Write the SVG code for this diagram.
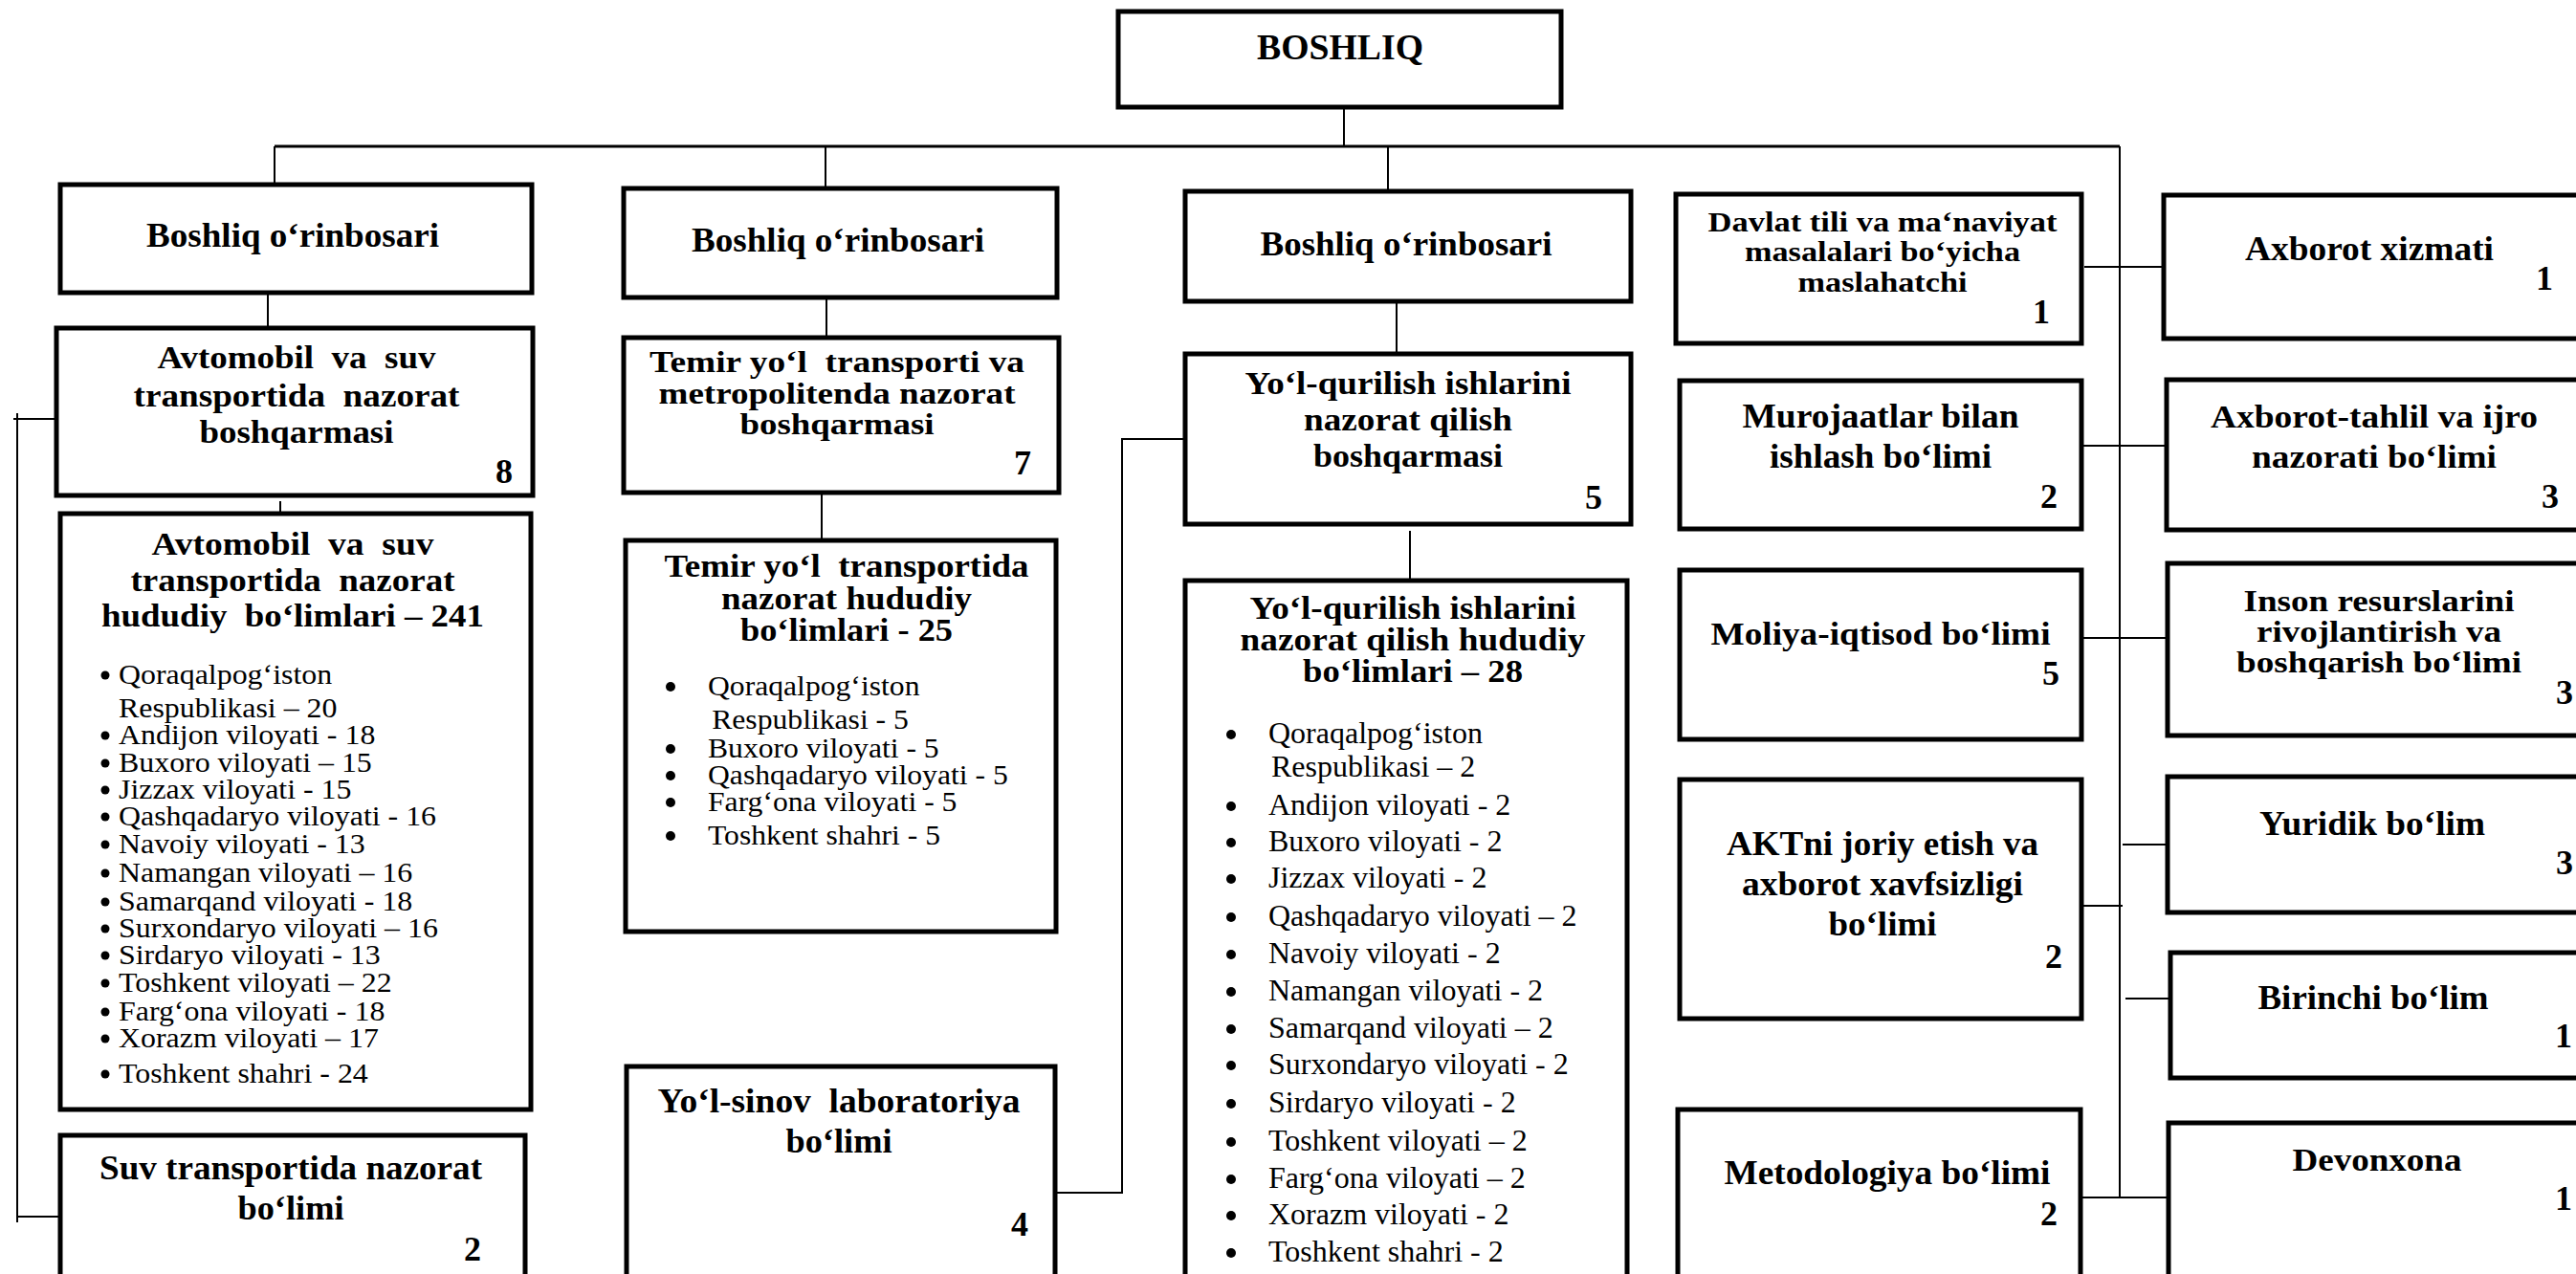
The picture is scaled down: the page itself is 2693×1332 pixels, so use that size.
<svg xmlns="http://www.w3.org/2000/svg" width="2693" height="1332" viewBox="0 0 2693 1332">
<style>
.box{fill:#fff;stroke:#000;stroke-width:5}
.ln{stroke:#000;stroke-width:2;fill:none}
.h{font-family:"Liberation Serif","Times New Roman",serif;font-weight:bold;text-anchor:middle;fill:#000}
.n{font-family:"Liberation Serif","Times New Roman",serif;font-weight:bold;font-size:36px;text-anchor:end;fill:#000}
.n2{font-family:"Liberation Serif","Times New Roman",serif;font-weight:bold;font-size:36px;fill:#000}
.li{font-family:"Liberation Serif","Times New Roman",serif;fill:#000}
.b{fill:#000}
</style>
<rect x="0" y="0" width="2693" height="1332" fill="#fff"/>
<g id="connectors">
<path class="ln" d="M1405 112V153"/>
<path class="ln" style="stroke-width:3" d="M287 153H2216"/>
<path class="ln" d="M287 153V193M863 153V197M1451 153V200"/>
<path class="ln" d="M280 306V343"/>
<path class="ln" d="M293 524V541"/>
<path class="ln" d="M14 438H59M18 432V1278M18 1272H61"/>
<path class="ln" d="M864 311V353"/>
<path class="ln" d="M859 515V565"/>
<path class="ln" d="M1460 315V370"/>
<path class="ln" d="M1474 555V607"/>
<path class="ln" d="M1104 1247H1173V459H1239"/>
<path class="ln" d="M2216 153V1252"/>
<path class="ln" d="M2179 279H2262"/>
<path class="ln" d="M2176 466H2265"/>
<path class="ln" d="M2176 667H2266"/>
<path class="ln" d="M2176 947H2219"/>
<path class="ln" d="M2219 883H2266"/>
<path class="ln" d="M2222 1044H2269"/>
<path class="ln" d="M2175 1252H2267"/>
</g>
<g id="boshliq">
<rect class="box" x="1169" y="12" width="463" height="100"/>
<text class="h" x="1401" y="62" font-size="37" textLength="174" lengthAdjust="spacingAndGlyphs">BOSHLIQ</text>
</g>
<g id="orinbosar1">
<rect class="box" x="63" y="193" width="493" height="113"/>
<text class="h" x="306" y="258" font-size="35" textLength="306" lengthAdjust="spacingAndGlyphs">Boshliq o‘rinbosari</text>
</g>
<g id="avto-boshqarma">
<rect class="box" x="59" y="343" width="498" height="175"/>
<text class="h" x="310" y="385" font-size="33" xml:space="preserve" textLength="291" lengthAdjust="spacingAndGlyphs">Avtomobil  va  suv</text>
<text class="h" x="310" y="425" font-size="33" xml:space="preserve" textLength="341" lengthAdjust="spacingAndGlyphs">transportida  nazorat</text>
<text class="h" x="310" y="463" font-size="33" textLength="203" lengthAdjust="spacingAndGlyphs">boshqarmasi</text>
<text class="n" x="536" y="505">8</text>
</g>
<g id="avto-hududiy">
<rect class="box" x="63" y="537" width="492" height="623"/>
<text class="h" x="306" y="580" font-size="33" xml:space="preserve" textLength="295" lengthAdjust="spacingAndGlyphs">Avtomobil  va  suv</text>
<text class="h" x="306" y="618" font-size="33" xml:space="preserve" textLength="339" lengthAdjust="spacingAndGlyphs">transportida  nazorat</text>
<text class="h" x="306" y="655" font-size="33" xml:space="preserve" textLength="400" lengthAdjust="spacingAndGlyphs">hududiy  bo‘limlari – 241</text>
<g class="b">
<circle cx="110" cy="706" r="4.5"/><circle cx="110" cy="769" r="4.5"/><circle cx="110" cy="798" r="4.5"/><circle cx="110" cy="826" r="4.5"/><circle cx="110" cy="854" r="4.5"/><circle cx="110" cy="883" r="4.5"/><circle cx="110" cy="913" r="4.5"/><circle cx="110" cy="943" r="4.5"/><circle cx="110" cy="971" r="4.5"/><circle cx="110" cy="999" r="4.5"/><circle cx="110" cy="1028" r="4.5"/><circle cx="110" cy="1058" r="4.5"/><circle cx="110" cy="1086" r="4.5"/><circle cx="110" cy="1123" r="4.5"/>
</g>
<g class="li" font-size="29" transform="matrix(1.1 0 0 1 124 0)">
<text x="0" y="715">Qoraqalpog‘iston</text>
<text x="0" y="750">Respublikasi – 20</text>
<text x="0" y="778">Andijon viloyati - 18</text>
<text x="0" y="807">Buxoro viloyati – 15</text>
<text x="0" y="835">Jizzax viloyati - 15</text>
<text x="0" y="863">Qashqadaryo viloyati - 16</text>
<text x="0" y="892">Navoiy viloyati - 13</text>
<text x="0" y="922">Namangan viloyati – 16</text>
<text x="0" y="952">Samarqand viloyati - 18</text>
<text x="0" y="980">Surxondaryo viloyati – 16</text>
<text x="0" y="1008">Sirdaryo viloyati - 13</text>
<text x="0" y="1037">Toshkent viloyati – 22</text>
<text x="0" y="1067">Farg‘ona viloyati - 18</text>
<text x="0" y="1095">Xorazm viloyati – 17</text>
<text x="0" y="1132">Toshkent shahri - 24</text>
</g>
</g>
<g id="suv-bolimi">
<rect class="box" x="63" y="1187" width="486" height="170"/>
<text class="h" x="304" y="1233" font-size="36" textLength="400" lengthAdjust="spacingAndGlyphs">Suv transportida nazorat</text>
<text class="h" x="304" y="1275" font-size="36" textLength="111" lengthAdjust="spacingAndGlyphs">bo‘limi</text>
<text class="n" x="503" y="1318">2</text>
</g>
<g id="orinbosar2">
<rect class="box" x="652" y="197" width="453" height="114"/>
<text class="h" x="876" y="263" font-size="35" textLength="306" lengthAdjust="spacingAndGlyphs">Boshliq o‘rinbosari</text>
</g>
<g id="temir-boshqarma">
<rect class="box" x="652" y="353" width="455" height="162"/>
<text class="h" x="875" y="389" font-size="32" xml:space="preserve" textLength="392" lengthAdjust="spacingAndGlyphs">Temir yo‘l  transporti va</text>
<text class="h" x="875" y="422" font-size="32" textLength="373" lengthAdjust="spacingAndGlyphs">metropolitenda nazorat</text>
<text class="h" x="875" y="454" font-size="32" textLength="203" lengthAdjust="spacingAndGlyphs">boshqarmasi</text>
<text class="n" x="1078" y="496">7</text>
</g>
<g id="temir-hududiy">
<rect class="box" x="654" y="565" width="450" height="409"/>
<text class="h" x="885" y="603" font-size="33" xml:space="preserve" textLength="381" lengthAdjust="spacingAndGlyphs">Temir yo‘l  transportida</text>
<text class="h" x="885" y="637" font-size="33" textLength="262" lengthAdjust="spacingAndGlyphs">nazorat hududiy</text>
<text class="h" x="885" y="670" font-size="33" textLength="222" lengthAdjust="spacingAndGlyphs">bo‘limlari - 25</text>
<g class="b">
<circle cx="701" cy="718" r="5"/><circle cx="701" cy="783" r="5"/><circle cx="701" cy="811" r="5"/><circle cx="701" cy="839" r="5"/><circle cx="701" cy="874" r="5"/>
</g>
<g class="li" font-size="30" transform="matrix(1.055 0 0 1 740 0)">
<text x="0" y="727">Qoraqalpog‘iston</text>
<text x="4" y="762">Respublikasi - 5</text>
<text x="0" y="792">Buxoro viloyati - 5</text>
<text x="0" y="820">Qashqadaryo viloyati - 5</text>
<text x="0" y="848">Farg‘ona viloyati - 5</text>
<text x="0" y="883">Toshkent shahri - 5</text>
</g>
</g>
<g id="yol-sinov">
<rect class="box" x="655" y="1115" width="448" height="240"/>
<text class="h" x="877" y="1163" font-size="35" xml:space="preserve" textLength="379" lengthAdjust="spacingAndGlyphs">Yo‘l-sinov  laboratoriya</text>
<text class="h" x="877" y="1205" font-size="35" textLength="111" lengthAdjust="spacingAndGlyphs">bo‘limi</text>
<text class="n" x="1075" y="1292">4</text>
</g>
<g id="orinbosar3">
<rect class="box" x="1239" y="200" width="466" height="115"/>
<text class="h" x="1470" y="267" font-size="35" textLength="305" lengthAdjust="spacingAndGlyphs">Boshliq o‘rinbosari</text>
</g>
<g id="yol-boshqarma">
<rect class="box" x="1239" y="370" width="466" height="178"/>
<text class="h" x="1472" y="412" font-size="34" textLength="341" lengthAdjust="spacingAndGlyphs">Yo‘l-qurilish ishlarini</text>
<text class="h" x="1472" y="450" font-size="34" textLength="218" lengthAdjust="spacingAndGlyphs">nazorat qilish</text>
<text class="h" x="1472" y="488" font-size="34" textLength="198" lengthAdjust="spacingAndGlyphs">boshqarmasi</text>
<text class="n" x="1675" y="532">5</text>
</g>
<g id="yol-hududiy">
<rect class="box" x="1239" y="607" width="462" height="750"/>
<text class="h" x="1477" y="647" font-size="34" textLength="341" lengthAdjust="spacingAndGlyphs">Yo‘l-qurilish ishlarini</text>
<text class="h" x="1477" y="680" font-size="34" textLength="361" lengthAdjust="spacingAndGlyphs">nazorat qilish hududiy</text>
<text class="h" x="1477" y="713" font-size="34" textLength="230" lengthAdjust="spacingAndGlyphs">bo‘limlari – 28</text>
<g class="b">
<circle cx="1287" cy="768" r="5"/><circle cx="1287" cy="843" r="5"/><circle cx="1287" cy="881" r="5"/><circle cx="1287" cy="919" r="5"/><circle cx="1287" cy="959" r="5"/><circle cx="1287" cy="998" r="5"/><circle cx="1287" cy="1037" r="5"/><circle cx="1287" cy="1076" r="5"/><circle cx="1287" cy="1114" r="5"/><circle cx="1287" cy="1154" r="5"/><circle cx="1287" cy="1194" r="5"/><circle cx="1287" cy="1233" r="5"/><circle cx="1287" cy="1271" r="5"/><circle cx="1287" cy="1310" r="5"/>
</g>
<g class="li" font-size="32">
<text x="1326" y="777">Qoraqalpog‘iston</text>
<text x="1329" y="812">Respublikasi – 2</text>
<text x="1326" y="852">Andijon viloyati - 2</text>
<text x="1326" y="890">Buxoro viloyati - 2</text>
<text x="1326" y="928">Jizzax viloyati - 2</text>
<text x="1326" y="968">Qashqadaryo viloyati – 2</text>
<text x="1326" y="1007">Navoiy viloyati - 2</text>
<text x="1326" y="1046">Namangan viloyati - 2</text>
<text x="1326" y="1085">Samarqand viloyati – 2</text>
<text x="1326" y="1123">Surxondaryo viloyati - 2</text>
<text x="1326" y="1163">Sirdaryo viloyati - 2</text>
<text x="1326" y="1203">Toshkent viloyati – 2</text>
<text x="1326" y="1242">Farg‘ona viloyati – 2</text>
<text x="1326" y="1280">Xorazm viloyati - 2</text>
<text x="1326" y="1319">Toshkent shahri - 2</text>
</g>
</g>
<g id="davlat-tili">
<rect class="box" x="1752" y="203" width="424" height="156"/>
<text class="h" x="1968" y="242" font-size="30" textLength="365" lengthAdjust="spacingAndGlyphs">Davlat tili va ma‘naviyat</text>
<text class="h" x="1968" y="273" font-size="30" textLength="288" lengthAdjust="spacingAndGlyphs">masalalari bo‘yicha</text>
<text class="h" x="1968" y="305" font-size="30" textLength="177" lengthAdjust="spacingAndGlyphs">maslahatchi</text>
<text class="n" x="2143" y="338">1</text>
</g>
<g id="murojaatlar">
<rect class="box" x="1756" y="398" width="420" height="155"/>
<text class="h" x="1966" y="447" font-size="35" textLength="289" lengthAdjust="spacingAndGlyphs">Murojaatlar bilan</text>
<text class="h" x="1966" y="489" font-size="35" textLength="232" lengthAdjust="spacingAndGlyphs">ishlash bo‘limi</text>
<text class="n" x="2151" y="531">2</text>
</g>
<g id="moliya">
<rect class="box" x="1756" y="596" width="420" height="177"/>
<text class="h" x="1966" y="674" font-size="33" textLength="355" lengthAdjust="spacingAndGlyphs">Moliya-iqtisod bo‘limi</text>
<text class="n" x="2153" y="716">5</text>
</g>
<g id="akt">
<rect class="box" x="1756" y="815" width="420" height="250"/>
<text class="h" x="1968" y="894" font-size="35" textLength="326" lengthAdjust="spacingAndGlyphs">AKTni joriy etish va</text>
<text class="h" x="1968" y="936" font-size="35" textLength="294" lengthAdjust="spacingAndGlyphs">axborot xavfsizligi</text>
<text class="h" x="1968" y="978" font-size="35" textLength="113" lengthAdjust="spacingAndGlyphs">bo‘limi</text>
<text class="n" x="2156" y="1012">2</text>
</g>
<g id="metodologiya">
<rect class="box" x="1754" y="1160" width="421" height="200"/>
<text class="h" x="1973" y="1238" font-size="35" textLength="341" lengthAdjust="spacingAndGlyphs">Metodologiya bo‘limi</text>
<text class="n" x="2151" y="1281">2</text>
</g>
<g id="axborot-xizmati">
<rect class="box" x="2262" y="204" width="460" height="150"/>
<text class="h" x="2477" y="272" font-size="35" textLength="260" lengthAdjust="spacingAndGlyphs">Axborot xizmati</text>
<text class="n" x="2669" y="303">1</text>
</g>
<g id="axborot-tahlil">
<rect class="box" x="2265" y="397" width="460" height="157"/>
<text class="h" x="2482" y="447" font-size="33" textLength="342" lengthAdjust="spacingAndGlyphs">Axborot-tahlil va ijro</text>
<text class="h" x="2482" y="489" font-size="33" textLength="256" lengthAdjust="spacingAndGlyphs">nazorati bo‘limi</text>
<text class="n" x="2675" y="531">3</text>
</g>
<g id="inson-resurslari">
<rect class="box" x="2266" y="589" width="460" height="180"/>
<text class="h" x="2487" y="639" font-size="32" textLength="283" lengthAdjust="spacingAndGlyphs">Inson resurslarini</text>
<text class="h" x="2487" y="671" font-size="32" textLength="256" lengthAdjust="spacingAndGlyphs">rivojlantirish va</text>
<text class="h" x="2487" y="703" font-size="32" textLength="298" lengthAdjust="spacingAndGlyphs">boshqarish bo‘limi</text>
<text class="n2" x="2672" y="736">3</text>
</g>
<g id="yuridik">
<rect class="box" x="2266" y="812" width="460" height="142"/>
<text class="h" x="2480" y="873" font-size="35" textLength="236" lengthAdjust="spacingAndGlyphs">Yuridik bo‘lim</text>
<text class="n2" x="2672" y="914">3</text>
</g>
<g id="birinchi">
<rect class="box" x="2269" y="996" width="460" height="131"/>
<text class="h" x="2481" y="1055" font-size="35" textLength="241" lengthAdjust="spacingAndGlyphs">Birinchi bo‘lim</text>
<text class="n" x="2689" y="1095">1</text>
</g>
<g id="devonxona">
<rect class="box" x="2267" y="1174" width="460" height="190"/>
<text class="h" x="2485" y="1224" font-size="34" textLength="177" lengthAdjust="spacingAndGlyphs">Devonxona</text>
<text class="n" x="2689" y="1265">1</text>
</g>
</svg>
